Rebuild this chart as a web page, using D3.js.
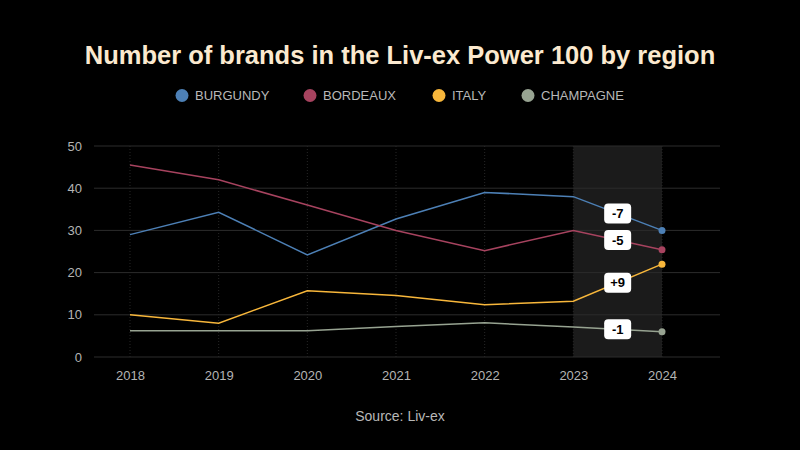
<!DOCTYPE html>
<html><head><meta charset="utf-8">
<script src="https://cdn.jsdelivr.net/npm/d3@7"></script>
<style>body{margin:0;background:#000}svg{display:block}</style>
</head><body><svg id="c" width="800" height="450"></svg>
<script>
const years = [2018, 2019, 2020, 2021, 2022, 2023, 2024];
const burgundy = [29, 34.3, 24.2, 32.7, 39, 38, 30];
const bordeaux = [45.5, 42, 36, 30, 25.2, 30, 25.4];
const italy = [10, 8, 15.7, 14.6, 12.4, 13.2, 22];
const champagne = [6.2, 6.2, 6.2, 7.2, 8.1, 7.1, 6];
const seriesNames = ["BURGUNDY", "BORDEAUX", "ITALY", "CHAMPAGNE"];
const seriesColors = ["#4d80b6", "#a7435f", "#f8b73b", "#97a391"];
const changeLabels = ["-7", "-5", "+9", "-1"];
const yTicks = [0, 10, 20, 30, 40, 50];

const seriesValues = [burgundy, bordeaux, italy, champagne];
const svg = d3.select("#c");
svg.append("rect").attr("width", 800).attr("height", 450).attr("fill", "#000");

const x = d3.scaleLinear().domain([2018, 2024]).range([130, 662]);
const y = d3.scaleLinear().domain([0, 50]).range([357, 146]);
const gridLeft = 94, gridRight = 720;

// highlight band
svg.append("rect").attr("x", x(2023)).attr("y", y(50))
  .attr("width", x(2024) - x(2023)).attr("height", y(0) - y(50))
  .attr("fill", "#1b1b1b");

// horizontal grid
svg.append("g").selectAll("line").data(yTicks).join("line")
  .attr("x1", gridLeft).attr("x2", gridRight)
  .attr("y1", d => y(d)).attr("y2", d => y(d))
  .attr("stroke", "#2c2c2c").attr("stroke-width", 1);
// vertical grid dotted
svg.append("g").selectAll("line").data(years).join("line")
  .attr("x1", d => x(d)).attr("x2", d => x(d))
  .attr("y1", y(50)).attr("y2", y(0))
  .attr("stroke", "#262626").attr("stroke-dasharray", "1,2");

// y axis
const yAxis = svg.append("g").attr("transform", `translate(${gridLeft},0)`)
  .call(d3.axisLeft(y).tickValues(yTicks).tickSize(0).tickPadding(12));
yAxis.select(".domain").remove();
yAxis.selectAll("text").attr("fill", "#b4b4b4").style("font-size", "13px").style("font-family", "Liberation Sans, Arial, sans-serif");

// x axis
const xAxis = svg.append("g").attr("transform", `translate(0,${y(0)})`)
  .call(d3.axisBottom(x).tickValues(years).tickFormat(d3.format("d")).tickSize(0).tickPadding(14));
xAxis.select(".domain").remove();
xAxis.selectAll("text").attr("fill", "#b4b4b4").style("font-size", "13px").style("font-family", "Liberation Sans, Arial, sans-serif");

// lines
const line = d3.line().x((d, i) => x(years[i])).y(d => y(d));
seriesValues.forEach((vals, s) => {
  svg.append("path").datum(vals).attr("d", line)
    .attr("fill", "none").attr("stroke", seriesColors[s]).attr("stroke-width", 1.5);
  svg.append("circle").attr("cx", x(years[6])).attr("cy", y(vals[6])).attr("r", 3.5)
    .attr("fill", seriesColors[s]);
});

// change labels
seriesValues.forEach((vals, s) => {
  const cx = (x(2023) + x(2024)) / 2;
  const cy = (y(vals[5]) + y(vals[6])) / 2;
  const g = svg.append("g").attr("transform", `translate(${cx},${cy})`);
  g.append("rect").attr("x", -13.5).attr("y", -10).attr("width", 27).attr("height", 20)
    .attr("rx", 4).attr("fill", "#fff");
  g.append("text").attr("text-anchor", "middle").attr("dy", "0.36em")
    .attr("fill", "#000").style("font-weight", "bold").style("font-size", "13px")
    .style("font-family", "Liberation Sans, Arial, sans-serif").text(changeLabels[s]);
});

// title
svg.append("text").attr("x", 400).attr("y", 64).attr("text-anchor", "middle")
  .attr("fill", "#fbe9cf").style("font-weight", "bold").style("font-size", "25.5px")
  .style("font-family", "Liberation Sans, Arial, sans-serif")
  .text("Number of brands in the Liv-ex Power 100 by region");

// legend
const legendX = [182, 310, 439, 528];
const lg = svg.append("g").selectAll("g").data(seriesNames).join("g")
  .attr("transform", (d, i) => `translate(${legendX[i]},95.5)`);
lg.append("circle").attr("r", 6.5).attr("fill", (d, i) => seriesColors[i]);
lg.append("text").attr("x", 13).attr("dy", "0.36em").attr("fill", "#b8b8b8")
  .style("font-size", "13px").style("font-family", "Liberation Sans, Arial, sans-serif")
  .text(d => d);

// source
svg.append("text").attr("x", 400).attr("y", 421).attr("text-anchor", "middle")
  .attr("fill", "#b8b8b8").style("font-size", "14px")
  .style("font-family", "Liberation Sans, Arial, sans-serif").text("Source: Liv-ex");
</script></body></html>
